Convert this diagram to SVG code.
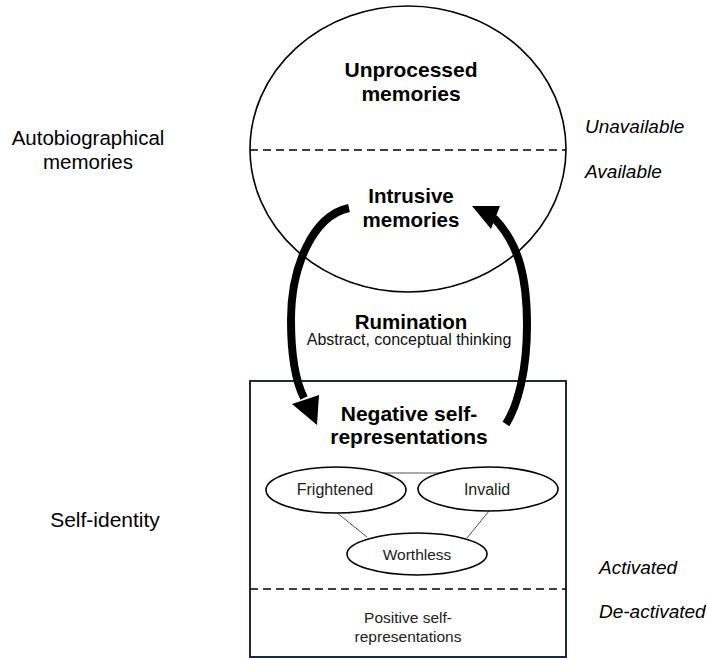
<svg xmlns="http://www.w3.org/2000/svg" width="707" height="658" viewBox="0 0 707 658">
<style>
text{font-family:"Liberation Sans",Arial,sans-serif;fill:#000}
.b{font-weight:bold;font-size:21px;text-anchor:middle}
.lab{font-size:20.5px;text-anchor:middle}
.it{font-style:italic;font-size:19px}
.sm{font-size:16px;text-anchor:middle;fill:#222}
.dash{stroke:#000;stroke-width:1.6;stroke-dasharray:8 5;fill:none}
.el{fill:#fff;stroke:#000;stroke-width:1.6}
.thin{stroke:#555;stroke-width:1}
.arr{fill:none;stroke:#000;stroke-width:8}
</style>
<rect width="707" height="658" fill="#fff"/>
<g id="labels">
<text class="lab" x="88" y="145">Autobiographical</text>
<text class="lab" x="88" y="169">memories</text>
<text class="lab" x="105" y="527" style="font-size:21px">Self-identity</text>
<text class="it" x="585" y="133">Unavailable</text>
<text class="it" x="585" y="178">Available</text>
<text class="it" x="599" y="574">Activated</text>
<text class="it" x="599" y="618">De-activated</text>
</g>
<g id="memories">
<ellipse cx="408" cy="149" rx="158" ry="143" fill="#fff" stroke="#000" stroke-width="1.6"/>
<line class="dash" x1="250" y1="150" x2="566" y2="150"/>
<text class="b" x="411" y="77">Unprocessed</text>
<text class="b" x="411" y="101">memories</text>
<text class="b" x="411" y="203" style="font-size:20.5px">Intrusive</text>
<text class="b" x="411" y="227" style="font-size:20.5px">memories</text>
</g>
<g id="rumination">
<text class="b" x="411" y="329" style="font-size:20.5px">Rumination</text>
<text class="sm" x="409" y="345" style="fill:#111">Abstract, conceptual thinking</text>
</g>
<g id="self">
<rect x="250" y="381" width="316" height="276" fill="none" stroke="#1c2a44" stroke-width="2"/>
<line class="dash" x1="250" y1="589" x2="566" y2="589"/>
<text class="b" x="409" y="421">Negative self-</text>
<text class="b" x="409" y="444">representations</text>
<text class="sm" x="408" y="623" style="font-size:15.5px">Positive self-</text>
<text class="sm" x="408" y="642" style="font-size:15.5px">representations</text>
</g>
<g id="links">
<line class="thin" x1="383" y1="473" x2="441" y2="473"/>
<line class="thin" x1="336" y1="512" x2="367" y2="537"/>
<line class="thin" x1="489" y1="511" x2="467" y2="538"/>
</g>
<g id="frightened">
<ellipse class="el" cx="336" cy="490" rx="70" ry="23"/>
<text class="sm" x="335" y="495">Frightened</text>
</g>
<g id="invalid">
<ellipse class="el" cx="488" cy="489" rx="70" ry="22"/>
<text class="sm" x="487" y="495">Invalid</text>
</g>
<g id="worthless">
<ellipse class="el" cx="417" cy="554" rx="70" ry="21"/>
<text class="sm" x="417" y="560" style="font-size:15.5px">Worthless</text>
</g>
<g id="connectors">
<path class="arr" d="M349 208 C312 216 291 268 291 320 C291 355 295 380 304 398"/>
<polygon points="317,425 292,404 319,395" fill="#000"/>
<path class="arr" d="M506 424 C518 405 527 370 527 325 C527 280 520 245 494 218"/>
<polygon points="472,206 500,206 491,229" fill="#000"/>
</g>
</svg>
